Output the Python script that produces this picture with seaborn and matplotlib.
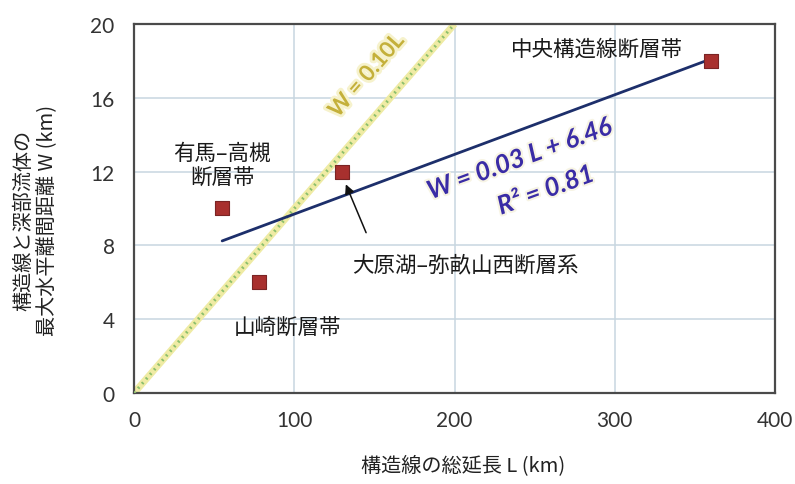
import matplotlib
matplotlib.use("Agg")
import matplotlib.pyplot as plt
import matplotlib.patheffects as pe
import numpy as np
import pandas as pd
import seaborn as sns

# Fault zones: total structural-line length L (km) vs. max horizontal offset W (km)
fault_names = ["有馬–高槻\n断層帯", "山崎断層帯", "大原湖–弥畝山西断層系", "中央構造線断層帯"]
length_L = [55, 78, 130, 360]
offset_W = [10, 6, 12, 18]

# Reference line W = 0.10 L
ref_slope = 0.10
ref_L = [0, 200]

x_ticks = [0, 100, 200, 300, 400]
y_ticks = [0, 4, 8, 12, 16, 20]

df = pd.DataFrame({"L": length_L, "W": offset_W, "name": fault_names})
ref_df = pd.DataFrame({"L": ref_L, "W": [ref_slope * v for v in ref_L]})

sns.set_theme(style="white")
plt.rcParams["font.family"] = ["Noto Sans CJK JP", "DejaVu Sans"]

fig = plt.figure(figsize=(7.95, 4.85), dpi=100)
ax = fig.add_axes([0.1686, 0.1876, 0.8062, 0.7609])

# W = 0.10L guide: pale yellow band with green dots
sns.lineplot(data=ref_df, x="L", y="W", ax=ax, color="#efeba4", lw=5,
             solid_capstyle="butt", zorder=2)
sns.lineplot(data=ref_df, x="L", y="W", ax=ax, color="#8cbf6c", lw=2.2,
             linestyle=(0, (0.6, 1.4)), zorder=3)

# least-squares fit through the four fault zones
sns.regplot(data=df, x="L", y="W", ax=ax, ci=None, scatter=False, truncate=True,
            line_kws=dict(color="#1d2f6b", lw=2.0, zorder=4))

sns.scatterplot(data=df, x="L", y="W", ax=ax, marker="s", s=115,
                color="#a8302e", edgecolor="#7a2424", linewidth=0.8, zorder=5)

ax.set_xlim(0, 400)
ax.set_ylim(0, 20)
ax.set_xticks(x_ticks)
ax.set_yticks(y_ticks)
ax.grid(True, color="#c8d6e0", lw=1.1)
ax.set_axisbelow(True)
for s in ax.spines.values():
    s.set_color("#4a4a4a")
    s.set_linewidth(1.6)
ax.tick_params(length=0, labelsize=15, labelcolor="#333333")
ax.tick_params(axis="x", pad=12)
ax.tick_params(axis="y", pad=14)
for lab in ax.get_xticklabels() + ax.get_yticklabels():
    lab.set_fontfamily(["Lato", "DejaVu Sans"])

ax.set_xlabel("構造線の総延長 L (km)", fontsize=14.5, color="#222222")
ax.xaxis.set_label_coords(0.513, -0.165)
ax.set_ylabel("構造線と深部流体の\n最大水平離間距離 W (km)", fontsize=14.5,
              color="#222222", linespacing=1.2)
ax.yaxis.set_label_coords(-0.118, 0.47)

# fault zone labels
label_pos = [(55, 12.35), (96, 3.6), (207, 6.95), (289, 18.65)]
for name, (lx, ly) in zip(fault_names, label_pos):
    ax.text(lx, ly, name, ha="center", va="center", fontsize=15.5,
            color="#1a1a1a", linespacing=1.2, zorder=6)

ax.annotate("", xy=(131.5, 11.45), xytext=(145.5, 8.55),
            arrowprops=dict(arrowstyle="-|>", color="#111111", lw=1.1,
                            mutation_scale=14), zorder=6)

glow = [pe.withStroke(linewidth=4, foreground="#f6f2cc")]
ax.text(145.0, 17.2, "W = 0.10L", rotation=49, rotation_mode="anchor",
        ha="center", va="center", fontsize=16, fontweight="bold",
        color="#c4b03a", family=["Lato", "DejaVu Sans"], path_effects=glow, zorder=6)

eq_glow = [pe.withStroke(linewidth=3, foreground="#f7f4e4")]
ax.text(240.6, 12.7, "W = 0.03 L + 6.46", rotation=20, rotation_mode="anchor",
        ha="center", va="center", fontsize=18.5, fontweight="bold", fontstyle="italic",
        color="#3a2ca6", family=["Lato", "DejaVu Sans"], path_effects=eq_glow, zorder=6)
ax.text(256.9, 11.0, "R² = 0.81", rotation=20, rotation_mode="anchor",
        ha="center", va="center", fontsize=18.5, fontweight="bold", fontstyle="italic",
        color="#3a2ca6", family=["Lato", "DejaVu Sans"], path_effects=eq_glow, zorder=6)

fig.savefig("out.png", dpi=100, facecolor="white")
